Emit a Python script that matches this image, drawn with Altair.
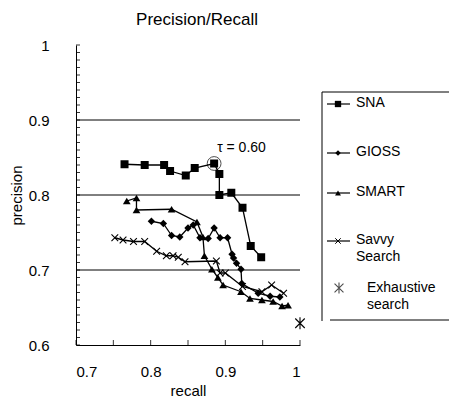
import altair as alt
import pandas as pd

FONT = "Liberation Sans"

chart_title = "Precision/Recall"
x_title = "recall"
y_title = "precision"

sna_recall = [0.765, 0.792, 0.818, 0.826, 0.847, 0.859, 0.885, 0.892, 0.892, 0.908, 0.923, 0.934, 0.948]
sna_precision = [0.841, 0.840, 0.840, 0.832, 0.826, 0.836, 0.842, 0.828, 0.800, 0.803, 0.783, 0.732, 0.717]

gioss_recall = [0.801, 0.817, 0.828, 0.839, 0.850, 0.857, 0.866, 0.877, 0.885, 0.893, 0.903, 0.909,
                0.911, 0.915, 0.921, 0.922, 0.944, 0.960, 0.973]
gioss_precision = [0.765, 0.762, 0.746, 0.744, 0.756, 0.760, 0.743, 0.742, 0.756, 0.743, 0.743, 0.721,
                   0.716, 0.709, 0.701, 0.682, 0.669, 0.665, 0.664]

smart_recall = [0.768, 0.781, 0.781, 0.828, 0.862, 0.870, 0.872, 0.882, 0.890, 0.897, 0.921, 0.933,
                0.949, 0.964, 0.976, 0.984]
smart_precision = [0.792, 0.796, 0.780, 0.781, 0.764, 0.744, 0.719, 0.701, 0.690, 0.680, 0.671, 0.662,
                   0.660, 0.658, 0.652, 0.653]

savvy_recall = [0.752, 0.763, 0.777, 0.792, 0.808, 0.821, 0.830, 0.837, 0.846, 0.888, 0.893, 0.900,
                0.923, 0.949, 0.962, 0.978]
savvy_precision = [0.743, 0.740, 0.738, 0.738, 0.725, 0.719, 0.719, 0.717, 0.711, 0.712, 0.696, 0.696,
                   0.678, 0.671, 0.680, 0.669]

exhaustive_recall = [1.0]
exhaustive_precision = [0.629]

tau_recall = [0.885]
tau_precision = [0.842]
tau_label = ["\u03c4 = 0.60"]

grid_values = [0.7, 0.8, 0.9]
x_label_values = [0.7, 0.8, 0.9, 1.0]
y_label_values = [0.6, 0.7, 0.8, 0.9, 1.0]
x_minor = [round(0.7 + 0.05 * i, 2) for i in range(7)]
y_minor = [round(0.6 + 0.01 * i, 2) for i in range(41)]

series = {
    "SNA": (sna_recall, sna_precision),
    "GIOSS": (gioss_recall, gioss_precision),
    "SMART": (smart_recall, smart_precision),
    "Savvy Search": (savvy_recall, savvy_precision),
    "Exhaustive search": (exhaustive_recall, exhaustive_precision),
}
rows = []
for name, (rec, prec) in series.items():
    for i, (r, p) in enumerate(zip(rec, prec)):
        rows.append({"series": name, "recall": r, "precision": p, "order": i})
df = pd.DataFrame(rows)

xs = alt.Scale(domain=[0.7, 1.0], nice=False, zero=False)
ys = alt.Scale(domain=[0.6, 1.0], nice=False, zero=False)

x_axis = alt.Axis(values=x_label_values, format=".1~f", title=x_title, ticks=False,
                  labelPadding=19, titlePadding=4, grid=False)
y_axis = alt.Axis(values=y_label_values, format=".1~f", title=y_title, ticks=False,
                  labelPadding=27, titlePadding=4, grid=False)

X = alt.X("recall:Q", scale=xs, axis=x_axis)
Y = alt.Y("precision:Q", scale=ys, axis=y_axis)

base = alt.Chart(df)

lines = base.transform_filter(
    alt.FieldOneOfPredicate(field="series", oneOf=["SNA", "GIOSS", "SMART", "Savvy Search"])
).mark_line(color="black", strokeWidth=1.3).encode(
    x=X, y=Y, detail="series:N", order="order:Q"
)

def pts(name, shape, size, filled=True, sw=1.0):
    return base.transform_filter(alt.datum.series == name).mark_point(
        shape=shape, size=size, filled=filled, color="black", opacity=1, strokeWidth=sw
    ).encode(x=X, y=Y)

XPATH = "M-1,-1L1,1M-1,1L1,-1"
ASTER = "M-1,-1L1,1M-1,1L1,-1M0,-1.25L0,1.25"

sna_pts = pts("SNA", "square", 64)
gioss_pts = pts("GIOSS", "diamond", 55)
smart_pts = pts("SMART", "triangle-up", 60)
savvy_pts = pts("Savvy Search", XPATH, 45, filled=False, sw=1.1)
exh_pts = pts("Exhaustive search", ASTER, 90, filled=False, sw=1.1)

grid = alt.Chart(pd.DataFrame({"precision": grid_values})).mark_rule(
    color="black", strokeWidth=1
).encode(y=Y)

yticks = alt.Chart(pd.DataFrame({"precision": y_minor})).mark_rule(
    color="black", strokeWidth=0.8
).encode(y=Y, x=alt.value(0), x2=alt.value(4))

xticks = alt.Chart(pd.DataFrame({"recall": x_minor})).mark_rule(
    color="black", strokeWidth=0.8
).encode(x=X, y=alt.value(300), y2=alt.value(295))

tau_df = pd.DataFrame({"recall": tau_recall, "precision": tau_precision, "label": tau_label})
tau_circle = alt.Chart(tau_df).mark_point(
    shape="circle", size=190, filled=False, color="black", strokeWidth=1
).encode(x=X, y=Y)
tau_text = alt.Chart(tau_df).mark_text(
    align="left", baseline="middle", dx=3, dy=-16, fontSize=14, font=FONT, color="black"
).encode(x=X, y=Y, text="label:N")

one = pd.DataFrame({"k": [0]})

title_mark = alt.Chart(one).mark_text(
    text=chart_title, align="center", baseline="middle", fontSize=17, font=FONT, color="black"
).encode(x=alt.value(121), y=alt.value(-25))

# ---- hand-drawn style legend ----
LX0, LX1, LM, LT = 251, 274, 262, 280
legend_layers = [
    alt.Chart(one).mark_rule(color="black", strokeWidth=1).encode(
        x=alt.value(246), y=alt.value(47), y2=alt.value(276)),
    alt.Chart(one).mark_rule(color="black", strokeWidth=1).encode(
        x=alt.value(246), x2=alt.value(376), y=alt.value(47)),
    alt.Chart(one).mark_rule(color="black", strokeWidth=1).encode(
        x=alt.value(254), x2=alt.value(374), y=alt.value(275)),
]
entries = [
    ("SNA", "square", 40, True, 59),
    ("GIOSS", "diamond", 30, True, 108),
    ("SMART", "triangle-up", 35, True, 148),
    (["Savvy", "Search"], XPATH, 30, False, 196),
]
for label, shape, size, filled, yy in entries:
    legend_layers.append(alt.Chart(one).mark_rule(color="black", strokeWidth=1.2).encode(
        x=alt.value(LX0), x2=alt.value(LX1), y=alt.value(yy)))
    legend_layers.append(alt.Chart(one).mark_point(
        shape=shape, size=size, filled=filled, color="black", opacity=1, strokeWidth=1).encode(
        x=alt.value(LM), y=alt.value(yy)))
    legend_layers.append(alt.Chart(one).mark_text(
        text=label, align="left", baseline="top", fontSize=14, font=FONT, color="black",
        lineHeight=17).encode(x=alt.value(LT), y=alt.value(yy - 8)))
legend_layers.append(alt.Chart(one).mark_point(
    shape=ASTER, size=80, filled=False, color="black", strokeWidth=1.1).encode(
    x=alt.value(LM + 1), y=alt.value(243)))
legend_layers.append(alt.Chart(one).mark_text(
    text=["Exhaustive", "search"], align="left", baseline="top", fontSize=14, font=FONT,
    color="black", lineHeight=17).encode(x=alt.value(291), y=alt.value(236)))

chart = alt.layer(
    grid, yticks, xticks, lines, sna_pts, gioss_pts, smart_pts, savvy_pts, exh_pts,
    tau_circle, tau_text, title_mark, *legend_layers
).properties(
    width=224, height=300,
    autosize=alt.AutoSizeParams(type="none"),
    padding={"left": 68, "top": 37, "right": 149, "bottom": 53},
).configure_view(stroke=None).configure_axis(
    domainColor="black", domainWidth=1, labelColor="black", titleColor="black",
    labelFont=FONT, titleFont=FONT, labelFontSize=15, titleFontSize=15,
    titleFontWeight="normal"
)

chart.save("out.html", embed_options={"renderer": "svg", "actions": False})
